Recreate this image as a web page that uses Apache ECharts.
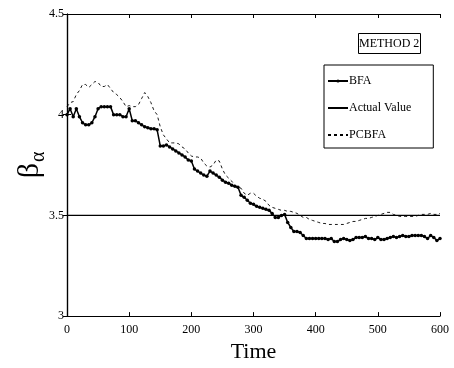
<!DOCTYPE html>
<html>
<head>
<meta charset="utf-8">
<script src="https://cdn.jsdelivr.net/npm/echarts@6/dist/echarts.min.js"></script>
<style>html,body{margin:0;padding:0;background:#fff;}#c{width:454px;height:368px;}</style>
</head>
<body>
<div id="c"></div>
<script>
// Time axis (step 5)
var timeStart = 0, timeStep = 5;
var bfa = [
4.00,4.03,3.99,4.03,3.99,3.96,3.95,3.95,3.96,3.99,
4.03,4.04,4.04,4.04,4.04,4.00,4.00,4.00,3.99,3.99,
4.03,3.97,3.97,3.96,3.95,3.94,3.935,3.93,3.93,3.925,
3.845,3.845,3.85,3.84,3.83,3.82,3.81,3.80,3.79,3.775,
3.77,3.73,3.72,3.71,3.70,3.695,3.72,3.71,3.70,3.69,
3.675,3.665,3.66,3.65,3.645,3.64,3.60,3.59,3.575,3.56,
3.555,3.545,3.54,3.535,3.53,3.525,3.51,3.49,3.49,3.50,
3.505,3.465,3.44,3.42,3.42,3.415,3.40,3.385,3.385,3.385,
3.385,3.385,3.385,3.385,3.38,3.385,3.37,3.37,3.38,3.385,
3.38,3.375,3.38,3.39,3.39,3.39,3.395,3.385,3.385,3.38,
3.39,3.38,3.38,3.385,3.39,3.395,3.39,3.395,3.40,3.395,
3.395,3.40,3.40,3.40,3.40,3.395,3.385,3.40,3.39,3.375,
3.385];
var pcbfa = [
4.04,4.06,4.065,4.10,4.12,4.15,4.15,4.135,4.15,4.165,
4.16,4.14,4.14,4.15,4.13,4.11,4.10,4.085,4.065,4.04,
4.045,4.04,4.04,4.05,4.08,4.11,4.09,4.06,4.02,4.00,
3.94,3.90,3.88,3.86,3.86,3.86,3.855,3.84,3.83,3.81,
3.795,3.79,3.79,3.785,3.76,3.745,3.74,3.75,3.775,3.77,
3.73,3.70,3.685,3.67,3.65,3.64,3.635,3.61,3.60,3.61,
3.61,3.595,3.585,3.58,3.57,3.55,3.54,3.535,3.53,3.525,
3.525,3.52,3.52,3.515,3.51,3.50,3.49,3.49,3.48,3.475,
3.47,3.465,3.46,3.46,3.455,3.455,3.455,3.455,3.455,3.455,
3.46,3.465,3.47,3.47,3.475,3.48,3.485,3.485,3.49,3.495,
3.50,3.505,3.51,3.515,3.515,3.505,3.50,3.495,3.495,3.495,
3.495,3.495,3.495,3.50,3.505,3.505,3.505,3.51,3.505,3.505,
3.51];
var actualTimes = [0, 600];
var actualValues = [3.5, 3.5];
var xTicks = [0, 100, 200, 300, 400, 500, 600];
var yTicks = [3, 3.5, 4, 4.5];

function pairs(arr) {
  return arr.map(function (v, i) { return [timeStart + i * timeStep, v]; });
}
var serif = '"Liberation Serif", "Times New Roman", serif';
var chart = echarts.init(document.getElementById('c'));
var axisCommon = {
  type: 'value',
  axisLine: { show: true, lineStyle: { color: '#000', width: 1.2 } },
  axisTick: { show: true, inside: true, length: 4, lineStyle: { color: '#000' } },
  splitLine: { show: false }
};
chart.setOption({
  backgroundColor: '#fff',
  animation: false,
  grid: { left: 67, right: 14, top: 14, bottom: 51 },
  title: {
    text: 'METHOD 2', left: 358, top: 33,
    borderColor: '#000', borderWidth: 1, padding: [5, 1, 4, 1],
    textStyle: { fontFamily: serif, fontSize: 12, fontWeight: 'normal', color: '#000' }
  },
  legend: {
    orient: 'vertical', left: 324, top: 65,
    padding: [10, 22, 7, 3], itemGap: 15, itemWidth: 20, itemHeight: 4,
    borderColor: '#000', borderWidth: 1, backgroundColor: '#fff',
    textStyle: { fontFamily: serif, fontSize: 12, color: '#000', padding: [0, 0, 0, -4] },
    data: [
      { name: 'BFA' },
      { name: 'Actual Value', itemStyle: { opacity: 0 } },
      { name: 'PCBFA', itemStyle: { opacity: 0 } }
    ]
  },
  xAxis: [
    Object.assign({}, axisCommon, {
      min: xTicks[0], max: xTicks[xTicks.length - 1], interval: 100,
      name: 'Time', nameLocation: 'middle', nameGap: 19,
      nameTextStyle: { fontFamily: serif, fontSize: 22, color: '#000' },
      axisLabel: { fontFamily: serif, fontSize: 12, color: '#000', margin: 8 }
    }),
    Object.assign({}, axisCommon, {
      position: 'top', min: xTicks[0], max: xTicks[xTicks.length - 1], interval: 100,
      axisLabel: { show: false }
    })
  ],
  yAxis: [
    Object.assign({}, axisCommon, {
      min: yTicks[0], max: yTicks[yTicks.length - 1], interval: 0.5,
      axisLabel: { fontFamily: serif, fontSize: 12, color: '#000', margin: 3 }
    }),
    Object.assign({}, axisCommon, {
      position: 'right', min: yTicks[0], max: yTicks[yTicks.length - 1], interval: 0.5,
      axisLabel: { show: false }
    })
  ],
  graphic: [{
    type: 'group', position: [30, 163], rotation: Math.PI / 2,
    children: [
      { type: 'text', style: { text: 'β', x: 0, y: 0, fontFamily: serif, fontSize: 30, fill: '#000', textAlign: 'right', textVerticalAlign: 'middle' } },
      { type: 'text', style: { text: 'α', x: 1, y: 9, fontFamily: serif, fontSize: 20, fill: '#000', textAlign: 'left', textVerticalAlign: 'middle' } }
    ]
  }],
  series: [
    {
      name: 'BFA', type: 'line', data: pairs(bfa),
      symbol: 'circle', symbolSize: 3.5, showSymbol: true,
      itemStyle: { color: '#000' },
      lineStyle: { color: '#000', width: 1.5 }
    },
    {
      name: 'Actual Value', type: 'line',
      data: actualTimes.map(function (t, i) { return [t, actualValues[i]]; }),
      symbol: 'none', itemStyle: { color: '#000' },
      lineStyle: { color: '#000', width: 1.2 }
    },
    {
      name: 'PCBFA', type: 'line', data: pairs(pcbfa),
      symbol: 'none', itemStyle: { color: '#000' },
      lineStyle: { color: '#000', width: 0.9, type: [3, 3] }
    }
  ]
});
</script>
</body>
</html>
